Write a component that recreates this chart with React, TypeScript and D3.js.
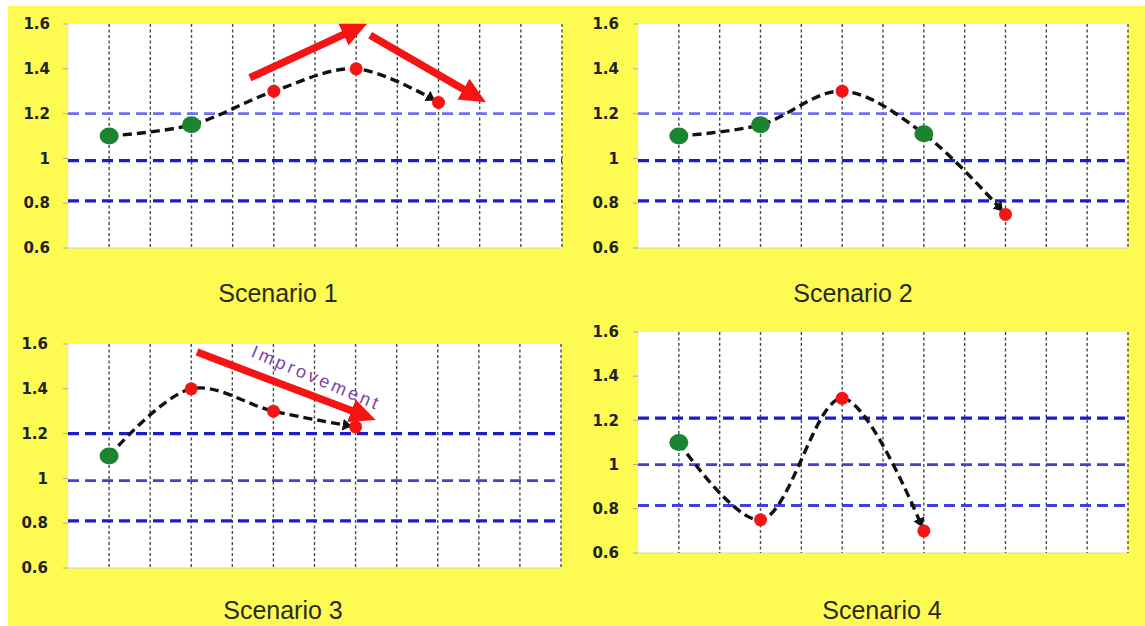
import * as d3 from 'd3';

// category slots on the x axis (12 intervals, points sit on odd slots)
const xSlots = d3.range(0, 13);
const pointSlots = [1, 3, 5, 7, 9];

const yTicks = [0.6, 0.8, 1, 1.2, 1.4, 1.6];
const yTickLabels = ['0.6', '0.8', '1', '1.2', '1.4', '1.6'];

const scenario1 = [1.1, 1.15, 1.3, 1.4, 1.25];
const scenario2 = [1.1, 1.15, 1.3, 1.11, 0.75];
const scenario3 = [1.1, 1.4, 1.3, 1.23];
const scenario4 = [1.1, 0.75, 1.3, 0.7];

const titles = ['Scenario 1', 'Scenario 2', 'Scenario 3', 'Scenario 4'];

// threshold lines: value + light/dark style
const limits1 = [[1.2, 'light'], [0.99, 'dark'], [0.81, 'dark']] as const;
const limits2 = [[1.2, 'light'], [0.99, 'dark'], [0.81, 'dark']] as const;
const limits3 = [[1.2, 'dark'], [0.99, 'mid'], [0.81, 'dark']] as const;
const limits4 = [[1.21, 'dark'], [1.0, 'mid'], [0.815, 'mid']] as const;

// red annotation arrows in data units: [x0, y0, x1, y1]
const arrows1 = [[4.42, 1.36, 6.78, 1.56], [7.34, 1.55, 9.69, 1.3]];
const arrows3 = [[3.14, 1.564, 6.99, 1.296]];
const noArrows: number[][] = [];

const okLow = 0.8;
const okHigh = 1.2;

const YELLOW = '#fdfa52';
const GREEN = '#1a8430';
const RED = '#f41414';

const layout = [
  { left: 68, right: 562, top: 24, bottom: 248, labelX: 50, titleX: 278, titleY: 302 },
  { left: 638, right: 1128, top: 24, bottom: 248, labelX: 619, titleX: 853, titleY: 302 },
  { left: 68, right: 561, top: 344, bottom: 568, labelX: 48, titleX: 283, titleY: 619 },
  { left: 638, right: 1128, top: 332, bottom: 553, labelX: 619, titleX: 882, titleY: 619 },
];

const limitStyle: Record<string, { color: string; width: number }> = {
  light: { color: '#6f6ff2', width: 2.6 },
  mid: { color: '#4040e0', width: 2.8 },
  dark: { color: '#1c1cc8', width: 3.2 },
};

interface PanelProps {
  idx: number;
  values: number[];
  limits: readonly (readonly [number, string])[];
  arrows: number[][];
  note?: { x: number; y: number; text: string };
}

function Panel({ idx, values, limits, arrows, note }: PanelProps) {
  const L = layout[idx];
  const x = d3.scaleLinear().domain([0, 12]).range([L.left, L.right]);
  const y = d3.scaleLinear().domain([0.6, 1.6]).range([L.bottom, L.top]);
  const pts: [number, number][] = values.map((v, i) => [pointSlots[i], v]);
  const line = d3
    .line<[number, number]>()
    .x((d) => x(d[0]))
    .y((d) => y(d[1]))
    .curve(d3.curveCatmullRom.alpha(0.5));

  return (
    <g>
      <rect x={L.left} y={L.top} width={L.right - L.left} height={L.bottom - L.top} fill="#fff" />
      <line x1={L.left} x2={L.right} y1={L.bottom} y2={L.bottom} stroke="#d8d8b0" strokeWidth={1} />
      <line x1={L.left} x2={L.left} y1={L.top} y2={L.bottom} stroke="#e8e8d0" strokeWidth={1} />
      {xSlots.slice(1).map((s) => (
        <line
          key={s}
          x1={x(s)}
          x2={x(s)}
          y1={L.top}
          y2={L.bottom}
          stroke="#4a4a4a"
          strokeWidth={1.4}
          strokeDasharray="3,2.5"
        />
      ))}
      {yTicks.map((t, i) => (
        <g key={t}>
          <line x1={L.left - 5} x2={L.left} y1={y(t)} y2={y(t)} stroke="#aaa" strokeWidth={1} />
          <text
            x={L.labelX}
            y={y(t)}
            dy="0.35em"
            textAnchor="end"
            fontFamily="DejaVu Sans"
            fontWeight="bold"
            fontSize={15}
            fill="#222"
          >
            {yTickLabels[i]}
          </text>
        </g>
      ))}
      {limits.map(([v, st]) => (
        <line
          key={v}
          x1={L.left}
          x2={L.right}
          y1={y(v)}
          y2={y(v)}
          stroke={limitStyle[st].color}
          strokeWidth={limitStyle[st].width}
          strokeDasharray="11,6"
        />
      ))}
      <path
        d={line(pts) ?? ''}
        fill="none"
        stroke="#111"
        strokeWidth={3.4}
        strokeDasharray="9,5"
        markerEnd="url(#blackHead)"
      />
      {pts.map((p, i) => {
        const ok = p[1] >= okLow && p[1] <= okHigh;
        return ok ? (
          <ellipse key={i} cx={x(p[0])} cy={y(p[1])} rx={9.5} ry={8.5} fill={GREEN} />
        ) : (
          <circle key={i} cx={x(p[0])} cy={y(p[1])} r={6.5} fill={RED} />
        );
      })}
      {arrows.map((a, i) => (
        <line
          key={i}
          x1={x(a[0])}
          y1={y(a[1])}
          x2={x(a[2])}
          y2={y(a[3])}
          stroke={RED}
          strokeWidth={7.5}
          markerEnd="url(#redHead)"
        />
      ))}
      {note && (
        <text
          transform={`translate(${x(note.x)},${y(note.y)}) rotate(23)`}
          fontFamily="Liberation Sans"
          fontSize={18}
          fill="#7c45a8"
          textLength={136}
          lengthAdjust="spacing"
        >
          {note.text}
        </text>
      )}
      <text
        x={L.titleX}
        y={L.titleY}
        textAnchor="middle"
        fontFamily="Liberation Sans"
        fontSize={25}
        fill="#2a2a20"
      >
        {titles[idx]}
      </text>
    </g>
  );
}

export default function App() {
  return (
    <svg
      width={1145}
      height={626}
      style={{ position: 'absolute', left: 0, top: 0, background: '#fff' }}
    >
      <defs>
        <marker
          id="redHead"
          markerUnits="userSpaceOnUse"
          markerWidth={26}
          markerHeight={24}
          refX={4}
          refY={12}
          orient="auto"
          viewBox="0 0 26 24"
        >
          <path d="M0,0 L26,12 L0,24 Z" fill={RED} />
        </marker>
        <marker
          id="blackHead"
          markerUnits="userSpaceOnUse"
          markerWidth={9}
          markerHeight={12}
          refX={13}
          refY={6}
          orient="auto"
          viewBox="0 0 9 12"
        >
          <path d="M0,0 L9,6 L0,12 Z" fill="#111" />
        </marker>
      </defs>
      <rect x={8} y={6} width={1137} height={620} fill={YELLOW} />
      <Panel idx={0} values={scenario1} limits={limits1} arrows={arrows1} />
      <Panel idx={1} values={scenario2} limits={limits2} arrows={noArrows} />
      <Panel
        idx={2}
        values={scenario3}
        limits={limits3}
        arrows={arrows3}
        note={{ x: 4.43, y: 1.545, text: 'Improvement' }}
      />
      <Panel idx={3} values={scenario4} limits={limits4} arrows={noArrows} />
    </svg>
  );
}
